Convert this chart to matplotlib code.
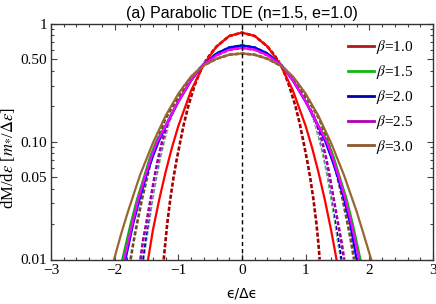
import numpy as np
import matplotlib
matplotlib.use('Agg')
import matplotlib.pyplot as plt
from matplotlib.lines import Line2D
from matplotlib.ticker import FixedLocator, FixedFormatter, MultipleLocator, NullFormatter

plt.rcParams['font.family'] = ['Liberation Serif', 'DejaVu Serif']
plt.rcParams['mathtext.fontset'] = 'stix'
plt.rcParams['lines.scale_dashes'] = False

# values (eps/Delta eps , dM/deps)
# solid curves
red_x = [-1.475, -1.4, -1.3, -1.2, -1.1, -1.0, -0.8, -0.6, -0.4, -0.2, 0.0,
         0.2, 0.4, 0.6, 0.8, 1.0, 1.1, 1.2, 1.3, 1.4, 1.485]
red_y = [0.01, 0.0177, 0.0323, 0.0553, 0.0893, 0.136, 0.272, 0.454, 0.644, 0.791, 0.845,
         0.791, 0.644, 0.454, 0.272, 0.136, 0.0893, 0.0553, 0.0323, 0.0177, 0.01]

green_x = [-1.88, -1.75, -1.645, -1.54, -1.445, -1.35, -1.2, -1.0, -0.8, -0.62, -0.4, -0.2, 0.0,
           0.2, 0.4, 0.62, 0.8, 1.0, 1.2, 1.345, 1.44, 1.535, 1.64, 1.74, 1.86]
green_y = [0.01, 0.02, 0.033, 0.05, 0.074, 0.1, 0.138, 0.222, 0.332, 0.445, 0.560, 0.631, 0.657,
           0.631, 0.560, 0.445, 0.332, 0.222, 0.138, 0.1, 0.074, 0.05, 0.033, 0.02, 0.01]

blue_x = [-1.83, -1.71, -1.605, -1.505, -1.405, -1.31, -1.2, -1.0, -0.8, -0.62, -0.4, -0.2, 0.0,
          0.2, 0.4, 0.62, 0.8, 1.0, 1.2, 1.31, 1.4, 1.5, 1.6, 1.7, 1.8]
blue_y = [0.01, 0.02, 0.033, 0.0511, 0.0738, 0.1, 0.134, 0.218, 0.330, 0.445, 0.560, 0.631, 0.657,
          0.631, 0.560, 0.445, 0.330, 0.218, 0.134, 0.1, 0.0738, 0.0511, 0.033, 0.02, 0.01]

magenta_x = [-1.85, -1.725, -1.625, -1.525, -1.425, -1.335, -1.2, -1.0, -0.8, -0.62, -0.4, -0.2, 0.0,
             0.2, 0.4, 0.62, 0.8, 1.0, 1.2, 1.33, 1.42, 1.52, 1.62, 1.72, 1.84]
magenta_y = [0.01, 0.02, 0.033, 0.05, 0.074, 0.1, 0.136, 0.220, 0.332, 0.445, 0.543, 0.605, 0.626,
             0.605, 0.543, 0.445, 0.332, 0.220, 0.136, 0.1, 0.074, 0.05, 0.033, 0.02, 0.01]

brown_x = [-2.01, -1.89, -1.79, -1.6, -1.4, -1.2, -1.0, -0.8, -0.6, -0.4, -0.2, 0.0,
           0.2, 0.4, 0.6, 0.8, 1.0, 1.2, 1.4, 1.6, 1.8, 1.9, 2.03]
brown_y = [0.01, 0.0171, 0.0256, 0.0524, 0.0975, 0.166, 0.256, 0.358, 0.445, 0.507, 0.548, 0.562,
           0.548, 0.507, 0.445, 0.358, 0.256, 0.166, 0.0975, 0.0524, 0.0256, 0.0171, 0.01]

# dashed curves
dred_x = [-1.23, -1.205, -1.175, -1.125, -1.075, -1.025, -0.97, -0.915, -0.845, -0.745, -0.62, -0.5, -0.4, -0.2, 0.0,
          0.2, 0.4, 0.5, 0.62, 0.74, 0.84, 0.91, 0.965, 1.02, 1.07, 1.12, 1.17, 1.20, 1.22]
dred_y = [0.01, 0.0137, 0.02, 0.033, 0.05, 0.071, 0.1, 0.14, 0.2, 0.3, 0.445, 0.552, 0.644, 0.791, 0.845,
          0.791, 0.644, 0.552, 0.445, 0.3, 0.2, 0.14, 0.1, 0.071, 0.05, 0.033, 0.02, 0.0137, 0.01]

dgreen_x = [-1.55, -1.51, -1.47, -1.41, -1.35, -1.29, -1.23, -1.15, -1.06, -0.9, -0.75, -0.62, -0.4, -0.2, 0.0,
            0.2, 0.4, 0.62, 0.75, 0.9, 1.06, 1.15, 1.23, 1.29, 1.35, 1.41, 1.47, 1.51, 1.56]
dgreen_y = [0.01, 0.0144, 0.02, 0.0326, 0.05, 0.073, 0.1, 0.144, 0.2, 0.3, 0.377, 0.445, 0.560, 0.631, 0.657,
            0.631, 0.560, 0.445, 0.377, 0.3, 0.2, 0.144, 0.1, 0.073, 0.05, 0.0326, 0.02, 0.0144, 0.01]

dblue_x = [-1.56, -1.52, -1.48, -1.42, -1.36, -1.3, -1.24, -1.16, -1.07, -0.9, -0.75, -0.62, -0.4, -0.2, 0.0,
           0.2, 0.4, 0.62, 0.75, 0.9, 1.07, 1.165, 1.245, 1.305, 1.365, 1.425, 1.485, 1.525, 1.565]
dblue_y = dgreen_y

dmagenta_x = [-1.595, -1.555, -1.505, -1.435, -1.375, -1.315, -1.255, -1.165, -1.075, -0.9, -0.75, -0.62, -0.4, -0.2, 0.0,
              0.2, 0.4, 0.62, 0.75, 0.9, 1.08, 1.17, 1.26, 1.32, 1.38, 1.44, 1.51, 1.56, 1.605]
dmagenta_y = [0.01, 0.0144, 0.02, 0.0326, 0.05, 0.073, 0.1, 0.144, 0.2, 0.3, 0.377, 0.445, 0.543, 0.605, 0.626,
              0.605, 0.543, 0.445, 0.377, 0.3, 0.2, 0.144, 0.1, 0.073, 0.05, 0.0326, 0.02, 0.0144, 0.01]

dbrown_x = [-1.75, -1.70, -1.65, -1.57, -1.49, -1.42, -1.34, -1.21, -1.09, -0.87, -0.74, -0.6, -0.4, -0.2, 0.0,
            0.2, 0.4, 0.6, 0.74, 0.87, 1.10, 1.22, 1.35, 1.43, 1.50, 1.58, 1.66, 1.71, 1.76]
dbrown_y = [0.01, 0.0145, 0.02, 0.0327, 0.05, 0.0731, 0.1, 0.154, 0.2, 0.3, 0.378, 0.445, 0.507, 0.548, 0.562,
            0.548, 0.507, 0.445, 0.378, 0.3, 0.2, 0.154, 0.1, 0.0731, 0.05, 0.0327, 0.02, 0.0145, 0.01]

betas = ['1.0', '1.5', '2.0', '2.5', '3.0']
solid_colors = ['#ff0000', '#00b400', '#0000ff', '#ff00ff', '#996633']
dash_colors = ['#a50000', '#00a000', '#0000b4', '#a000a0', '#6e4a28']
legend_colors = ['#b01818', '#10b810', '#0000b0', '#b000b0', '#8c5a30']

yticks = [0.01, 0.05, 0.1, 0.5, 1.0]
ytick_labels = ['0.01', '0.05', '0.10', '0.50', '1']
xticks = [-3, -2, -1, 0, 1, 2, 3]
xtick_labels = ['\u22123', '\u22122', '\u22121', '0', '1', '2', '3']

solids = [(red_x, red_y), (green_x, green_y), (blue_x, blue_y), (magenta_x, magenta_y), (brown_x, brown_y)]
dashed = [(dred_x, dred_y), (dgreen_x, dgreen_y), (dblue_x, dblue_y), (dmagenta_x, dmagenta_y), (dbrown_x, dbrown_y)]

fig = plt.figure(figsize=(4.36, 3.04), dpi=100)
ax = fig.add_axes([51/436, 1-259.5/304, 382/436, 235.5/304])

# dashed curves first: white underlay + coloured dashes
for (x, y), c in zip(dashed, dash_colors):
    ax.plot(x, y, color='white', lw=2.4, solid_capstyle='butt')
    ax.plot(x, y, color=c, lw=1.9, dashes=(3.0, 1.4), dash_capstyle='butt')

for (x, y), c in zip(solids, solid_colors):
    ax.plot(x, y, color=c, lw=1.6)

ax.axvline(0, color='black', lw=1.0, dashes=(3.0, 2.2))

ax.set_yscale('log')
ax.set_xlim(-3, 3)
ax.set_ylim(0.01, 1.0)
ax.yaxis.set_major_locator(FixedLocator(yticks))
ax.yaxis.set_major_formatter(FixedFormatter(ytick_labels))
ax.yaxis.set_minor_formatter(NullFormatter())
ax.xaxis.set_major_locator(FixedLocator(xticks))
ax.xaxis.set_minor_locator(MultipleLocator(0.2))
ax.set_xticklabels(xtick_labels)

ax.tick_params(which='both', direction='in', top=True, right=True, labelsize=11, pad=3, color='#444444', width=0.8)
ax.tick_params(which='major', length=4.5)
ax.tick_params(which='minor', length=2.5)
for s in ax.spines.values():
    s.set_linewidth(1.0)
    s.set_color('#333333')

ax.set_title('(a) Parabolic TDE (n=1.5, e=1.0)', family='Liberation Sans', fontsize=11.5, pad=4)
ax.set_xlabel('\u03f5/\u0394\u03f5', family='DejaVu Sans', fontsize=10)
ax.xaxis.set_label_coords(0.5, -0.115)
ax.set_ylabel(r'dM/d$\epsilon$ [$m_{*}$/$\Delta\epsilon$]', fontsize=12)
ax.yaxis.set_label_coords(-0.09, 0.43)

handles = [Line2D([0], [0], color=c, lw=2.0) for c in legend_colors]
labels = [r'$\beta$=' + b for b in betas]
ax.legend(handles, labels, loc='upper left', bbox_to_anchor=(0.75, 0.985), frameon=False,
          fontsize=11, handlelength=1.7, handletextpad=0.15, labelspacing=0.45, borderpad=0.2)

fig.savefig('out.png', dpi=100)
